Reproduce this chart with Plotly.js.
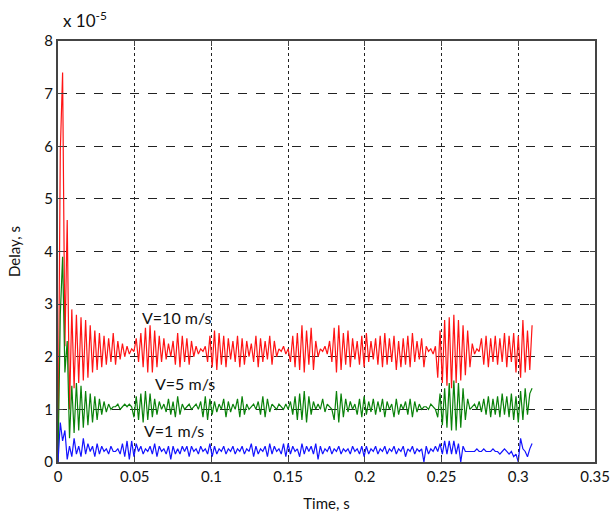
<!DOCTYPE html>
<html>
<head>
<meta charset="utf-8">
<script src="https://cdn.plot.ly/plotly-3.0.1.min.js"></script>
<style>html,body{margin:0;padding:0;background:#fff}#chart{width:614px;height:513px}</style>
</head>
<body>
<div id="chart"></div>
<script>
// Sampling of the time axis (s)
const timeStart = 0;
const timeStep = 0.0015;

// Delay values in units of 1e-5 s (rows of 10 samples = 0.015 s)
const delayV10 = [
  0, 5.9, 7.4, 2.2, 4.6, 1.0, 2.9, 1.4, 2.8, 1.5,
  2.75, 1.55, 2.7, 1.6, 2.6, 1.7, 2.5, 1.75, 2.45, 1.8,
  2.4, 1.85, 2.35, 1.9, 2.45, 1.85, 2.3, 1.95, 2.25, 2.0,
  2.2, 2.05, 2.15, 2.1, 2.35, 1.9, 2.45, 1.8, 2.55, 1.7,
  2.6, 1.7, 2.5, 1.8, 2.4, 1.9, 2.35, 1.95, 2.25, 2.0,
  2.3, 1.85, 2.45, 1.8, 2.4, 1.9, 2.35, 1.85, 2.3, 2.0,
  2.2, 2.05, 2.15, 2.1, 2.2, 1.9, 2.4, 1.8, 2.5, 1.75,
  2.45, 1.85, 2.4, 1.8, 2.35, 1.95, 2.3, 1.9, 2.4, 1.8,
  2.35, 1.85, 2.3, 2.0, 2.25, 1.9, 2.4, 1.8, 2.35, 1.9,
  2.3, 1.95, 2.4, 1.85, 2.3, 2.0, 2.15, 2.1, 2.2, 2.05,
  2.15, 1.9, 2.4, 1.8, 2.45, 1.75, 2.6, 1.7, 2.5, 1.85,
  2.55, 1.75, 2.3, 2.0, 2.15, 2.1, 2.2, 2.05, 2.3, 1.9,
  2.55, 1.7, 2.6, 1.75, 2.45, 1.85, 2.5, 1.8, 2.35, 1.95,
  2.3, 1.85, 2.4, 1.8, 2.45, 1.9, 2.3, 1.95, 2.35, 1.85,
  2.4, 1.8, 2.45, 1.85, 2.35, 1.9, 2.4, 1.75, 2.3, 1.8,
  2.35, 1.85, 2.4, 1.8, 2.45, 1.9, 2.3, 1.95, 2.35, 1.8,
  2.2, 2.1, 2.15, 2.05, 2.2, 1.6, 2.5, 1.5, 2.7, 1.45,
  2.75, 1.4, 2.8, 1.5, 2.7, 1.55, 2.6, 1.65, 2.5, 1.8,
  2.25, 2.05, 2.15, 2.1, 2.35, 1.85, 2.4, 1.8, 2.35, 1.9,
  2.4, 1.85, 2.35, 1.9, 2.45, 1.8, 2.4, 1.9, 2.45, 1.7,
  2.4, 1.6, 2.7, 1.7, 2.5, 1.75, 2.6
];
const delayV5 = [
  0, 2.8, 3.9, 1.7, 2.3, 0.45, 1.45, 0.55, 1.5, 0.6,
  1.45, 0.65, 1.35, 0.7, 1.3, 0.75, 1.25, 0.8, 1.2, 0.9,
  1.15, 0.95, 1.1, 1.0, 1.05, 1.05, 1.1, 1.0, 1.05, 1.1,
  1.05, 1.1, 1.05, 0.85, 1.25, 0.8, 1.3, 0.75, 1.35, 0.8,
  1.3, 0.85, 1.2, 0.9, 1.15, 1.0, 1.1, 0.95, 1.2, 0.9,
  1.15, 0.85, 1.25, 0.9, 1.1, 1.0, 1.05, 1.1, 1.0, 1.05,
  1.1, 1.0, 1.15, 0.85, 1.25, 0.8, 1.2, 0.9, 1.15, 0.95,
  1.1, 1.0, 1.2, 0.85, 1.15, 0.95, 1.1, 1.0, 1.2, 0.85,
  1.25, 0.9, 1.1, 1.0, 1.05, 1.1, 1.0, 1.15, 0.9, 1.25,
  0.85, 1.2, 0.95, 1.1, 1.05, 1.0, 1.1, 1.05, 1.0, 1.1,
  1.0, 1.15, 0.9, 1.25, 0.8, 1.3, 0.8, 1.35, 0.75, 1.25,
  0.9, 1.15, 1.0, 1.1, 1.0, 1.2, 0.95, 1.1, 1.05, 1.0,
  0.8, 1.35, 0.75, 1.3, 0.85, 1.2, 0.95, 1.15, 1.0, 1.1,
  0.9, 1.2, 0.85, 1.25, 0.9, 1.15, 0.95, 1.2, 0.9, 1.15,
  0.95, 1.2, 0.85, 1.15, 1.0, 1.1, 0.85, 1.2, 0.9, 1.1,
  1.0, 1.15, 0.9, 1.2, 0.85, 1.15, 0.95, 1.1, 1.0, 1.05,
  1.05, 1.0, 1.1, 1.05, 1.0, 0.85, 1.3, 0.7, 1.4, 0.65,
  1.5, 0.6, 1.55, 0.6, 1.5, 0.65, 1.4, 0.8, 1.2, 1.0,
  1.05, 1.1, 1.0, 1.15, 0.95, 1.2, 0.9, 1.25, 0.85, 1.2,
  0.9, 1.25, 0.85, 1.3, 0.9, 1.25, 0.85, 1.3, 0.8, 1.25,
  0.75, 1.35, 0.8, 1.4, 0.9, 1.3, 1.4
];
const delayV1 = [
  0, 0.75, 0.4, 0.6, 0.05, 0.3, 0.1, 0.45, 0.15, 0.3,
  0.1, 0.45, 0.15, 0.35, 0.2, 0.3, 0.1, 0.35, 0.15, 0.3,
  0.2, 0.25, 0.15, 0.3, 0.2, 0.2, 0.25, 0.15, 0.35, 0.1,
  0.4, 0.05, 0.4, 0.1, 0.35, 0.2, 0.3, 0.15, 0.25, 0.2,
  0.3, 0.15, 0.35, 0.1, 0.3, 0.2, 0.25, 0.15, 0.3, 0.05,
  0.3, 0.15, 0.25, 0.15, 0.3, 0.2, 0.3, 0.1, 0.3, 0.2,
  0.25, 0.15, 0.3, 0.2, 0.25, 0.15, 0.35, 0.1, 0.3, 0.15,
  0.25, 0.2, 0.3, 0.15, 0.25, 0.2, 0.3, 0.15, 0.25, 0.2,
  0.3, 0.15, 0.25, 0.2, 0.35, 0.1, 0.3, 0.15, 0.25, 0.2,
  0.3, 0.1, 0.35, 0.15, 0.3, 0.2, 0.25, 0.15, 0.35, 0.1,
  0.35, 0.15, 0.3, 0.2, 0.25, 0.1, 0.35, 0.15, 0.3, 0.2,
  0.3, 0.15, 0.35, 0.05, 0.3, 0.15, 0.25, 0.2, 0.3, 0.15,
  0.25, 0.2, 0.3, 0.15, 0.25, 0.2, 0.25, 0.15, 0.3, 0.2,
  0.25, 0.15, 0.3, 0.1, 0.3, 0.15, 0.25, 0.2, 0.3, 0.15,
  0.25, 0.2, 0.3, 0.15, 0.25, 0.2, 0.3, 0.15, 0.25, 0.2,
  0.3, 0.1, 0.25, 0.2, 0.3, 0.15, 0.25, 0.2, 0.25, 0.0,
  0.3, 0.15, 0.25, 0.2, 0.3, 0.2, 0.35, 0.15, 0.4, 0.15,
  0.4, 0.15, 0.4, 0.15, 0.35, 0.0, 0.3, 0.2, 0.2, 0.2,
  0.2, 0.2, 0.25, 0.2, 0.2, 0.25, 0.2, 0.2, 0.2, 0.25,
  0.2, 0.2, 0.15, 0.2, 0.25, 0.2, 0.15, 0.2, 0.1, 0.15,
  0.0, 0.45, 0.25, 0.2, 0.1, 0.25, 0.35
];

const seriesLabels = ['V=10 m/s', 'V=5 m/s', 'V=1 m/s'];
const labelTimes = [0.0776, 0.0828, 0.0756];
const labelDelays = [2.74, 1.5, 0.59];

const xTickValues = [0, 0.05, 0.1, 0.15, 0.2, 0.25, 0.3, 0.35];
const xTickLabels = ['0', '0.05', '0.1', '0.15', '0.2', '0.25', '0.3', '0.35'];
const yTickValues = [0, 1, 2, 3, 4, 5, 6, 7, 8];
const yTickLabels = ['0', '1', '2', '3', '4', '5', '6', '7', '8'];

const FONT = 'Lato, "Open Sans", sans-serif';
const colors = ['rgb(255,20,20)', 'rgb(10,130,10)', 'rgb(20,20,255)'];
const allSeries = [delayV10, delayV5, delayV1];

const traces = allSeries.map((ys, k) => ({
  type: 'scatter', mode: 'lines',
  x0: timeStart, dx: timeStep, y: ys,
  line: {color: colors[k], width: 1.2},
  hoverinfo: 'skip', showlegend: false, cliponaxis: true
}));

const annotations = seriesLabels.map((t, k) => ({
  x: labelTimes[k], y: labelDelays[k], xref: 'x', yref: 'y',
  text: t, showarrow: false, font: {family: FONT, size: 16, color: '#111'}
}));
annotations.push({
  xref: 'paper', yref: 'paper', x: 0.006, y: 1.0, xanchor: 'left', yanchor: 'bottom', yshift: 8,
  text: 'x 10<sup>-5</sup>', showarrow: false, font: {family: FONT, size: 17, color: '#111'}
});

const axisCommon = {
  showline: true, mirror: 'ticks', linecolor: '#444', linewidth: 2,
  ticks: 'inside', ticklen: 5, tickcolor: '#444', tickwidth: 1,
  showgrid: true, gridcolor: '#222', gridwidth: 1.2,
  zeroline: false, tickfont: {family: FONT, size: 15, color: '#111'},
  fixedrange: true
};

const layout = {
  width: 614, height: 513,
  margin: {l: 58, r: 19, t: 41, b: 51},
  paper_bgcolor: '#fff', plot_bgcolor: '#fff',
  xaxis: Object.assign({}, axisCommon, {
    range: [0, 0.35], tickvals: xTickValues, ticktext: xTickLabels, griddash: 'dot',
    title: {text: 'Time, s', font: {family: FONT, size: 15, color: '#111'}, standoff: 14}
  }),
  yaxis: Object.assign({}, axisCommon, {
    range: [0, 8], tickvals: yTickValues, ticktext: yTickLabels, griddash: 'dash',
    title: {text: 'Delay, s', font: {family: FONT, size: 15, color: '#111'}, standoff: 20}
  }),
  annotations: annotations
};

Plotly.newPlot('chart', traces, layout, {displayModeBar: false, staticPlot: true});
</script>
</body>
</html>
